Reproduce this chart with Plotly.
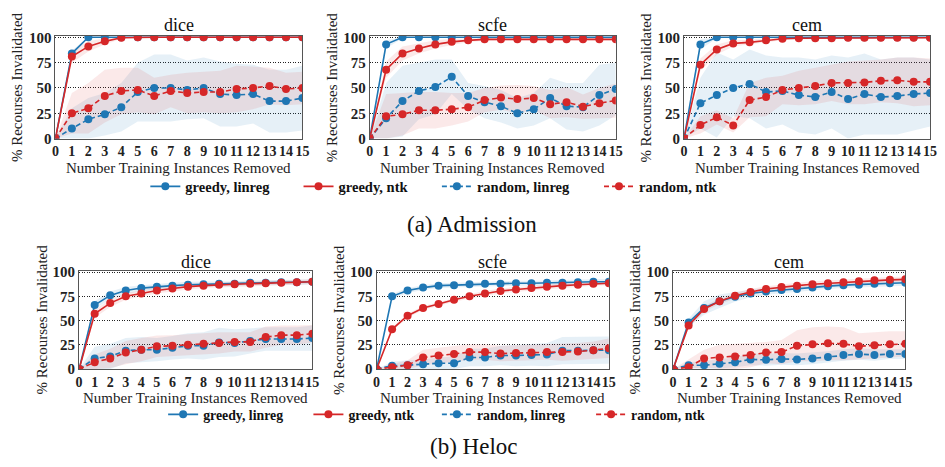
import plotly.graph_objects as go

# ---------------- data ----------------
X = list(range(16))
SERIES = ["greedy, linreg", "greedy, ntk", "random, linreg", "random, ntk"]
METHODS = ["dice", "scfe", "cem"]
CAPTIONS = ["(a) Admission", "(b) Heloc"]
Y_TICKS = [0, 25, 50, 75, 100]
X_TITLE = "Number Training Instances Removed"
Y_TITLE = "% Recourses Invalidated"

# Admission / dice
ADM_DICE_GL = [0, 84, 100, 100, 100, 100, 100, 100, 100, 100, 100, 100, 100, 100, 100, 100]
ADM_DICE_GL_SD = [0, 3, 1, 0.5, 0, 0, 0, 0, 0, 0, 0, 0, 0, 0, 0, 0]
ADM_DICE_GN = [0, 81, 91, 96, 99.5, 100, 100, 100, 100, 100, 100, 100, 100, 100, 100, 100]
ADM_DICE_GN_SD = [0, 6, 5, 3, 1, 0.5, 0, 0, 0, 0, 0, 0, 0, 0, 0, 0]
ADM_DICE_RL = [0, 10, 19, 24, 31, 46, 50, 50, 48, 50, 44, 43, 44, 37, 37, 40]
ADM_DICE_RL_SD = [0, 20, 21, 21, 24, 29, 33, 33, 29, 30, 32, 31, 29, 31, 31, 32]
ADM_DICE_RN = [0, 25, 30, 42, 47, 48, 42, 47, 45, 46, 46, 49, 50, 52, 49, 50]
ADM_DICE_RN_SD = [0, 20, 25, 26, 23, 22, 18, 16, 20, 20, 21, 23, 21, 18, 16, 16]

# Admission / scfe
ADM_SCFE_GL = [0, 93, 100, 100, 100, 100, 100, 100, 100, 100, 100, 100, 100, 100, 100, 100]
ADM_SCFE_GL_SD = [0, 4, 1, 0.5, 0, 0, 0, 0, 0, 0, 0, 0, 0, 0, 0, 0]
ADM_SCFE_GN = [0, 68, 84, 89, 93, 95.5, 97, 98, 98, 98, 98, 98, 98, 98, 98, 98]
ADM_SCFE_GN_SD = [0, 8, 7, 5, 4, 3, 2, 1.5, 1.5, 1.5, 1.5, 1.5, 1.5, 1.5, 1.5, 1.5]
ADM_SCFE_RL = [0, 20, 37, 47, 51, 61, 42, 36, 32, 25, 29, 40, 32, 31, 43, 49]
ADM_SCFE_RL_SD = [0, 35, 35, 28, 27, 17, 13, 16, 16, 15, 16, 20, 23, 24, 30, 26]
ADM_SCFE_RN = [0, 22, 24, 28, 28, 29, 31, 38, 40.5, 39, 40, 34, 36, 31.5, 35, 37.5]
ADM_SCFE_RN_SD = [0, 22, 21, 18, 18, 16, 14, 12, 12, 14, 12, 14, 15, 12, 15, 17]

# Admission / cem
ADM_CEM_GL = [0, 93, 100, 100, 100, 100, 100, 100, 100, 100, 100, 100, 100, 100, 100, 100]
ADM_CEM_GL_SD = [0, 5, 1, 0.5, 0, 0, 0, 0, 0, 0, 0, 0, 0, 0, 0, 0]
ADM_CEM_GN = [0, 73, 88, 94, 95, 97, 98.5, 99, 99, 99, 99.5, 99.5, 99.5, 99.5, 99.5, 99.5]
ADM_CEM_GN_SD = [0, 6, 5, 3, 2.5, 2, 1.5, 1, 1, 1, 1, 1, 1, 1, 1, 1]
ADM_CEM_RL = [0, 35, 43, 50, 54, 46, 47, 43, 41, 46, 39, 44, 41, 42, 44, 45]
ADM_CEM_RL_SD = [0, 25, 42, 28, 34, 36, 33, 37, 37, 36, 41, 40, 37, 38, 36, 33]
ADM_CEM_RN = [0, 13.5, 21, 13, 38, 41, 48, 50, 52, 55, 55, 55.5, 57, 57.5, 56, 56]
ADM_CEM_RN_SD = [0, 8.5, 7, 7, 17, 19, 14, 17, 18, 18, 21, 21.5, 21, 22.5, 24, 23]

# Heloc / dice
HEL_DICE_GL = [0, 66, 76, 81, 83.5, 85, 86, 87, 87.5, 88, 88, 89, 89, 89.5, 89.5, 90]
HEL_DICE_GL_SD = [0, 4, 4, 3.5, 3, 3, 3, 3, 2.5, 2.5, 2.5, 2.5, 2.5, 2.5, 2.5, 2.5]
HEL_DICE_GN = [0, 57, 68, 75, 78, 81, 83, 85, 86, 87, 87.5, 88, 88.5, 89, 89.5, 90]
HEL_DICE_GN_SD = [0, 4, 4, 3.5, 3, 3, 3, 3, 2.5, 2.5, 2.5, 2.5, 2.5, 2.5, 2.5, 2.5]
HEL_DICE_RL = [0, 11, 13, 19, 20, 20, 22, 24, 24, 27.5, 27, 29, 31, 31, 31, 32]
HEL_DICE_RL_SD = [0, 12, 13, 13, 13, 12, 12, 13, 14, 15, 14, 13, 12, 12, 12, 13]
HEL_DICE_RN = [0, 7, 11, 17, 20, 23.5, 24, 25, 26, 27, 28, 28, 33, 35, 35, 36.5]
HEL_DICE_RN_SD = [0, 8, 10, 12, 12, 11, 11, 11, 11, 11, 10, 10, 11, 10, 10, 9]

# Heloc / scfe
HEL_SCFE_GL = [0, 75, 81, 84, 86, 86.5, 87.5, 88, 88, 88.5, 88.5, 89, 89, 89.5, 90, 90]
HEL_SCFE_GL_SD = [0, 2.5, 2.5, 2.5, 2.5, 2.5, 2.5, 2.5, 2.5, 2.5, 2.5, 2.5, 2.5, 2.5, 2.5, 2.5]
HEL_SCFE_GN = [0, 41, 55, 63, 67, 71.5, 75, 78, 80.5, 82, 83.5, 85, 86, 87, 88, 88.5]
HEL_SCFE_GN_SD = [0, 2, 2, 2, 2, 2, 2.5, 2.5, 2.5, 2.5, 2.5, 2.5, 2.5, 2.5, 2, 2]
HEL_SCFE_RL = [0, 3.5, 4, 5, 6, 6, 12, 12, 14, 14, 14.5, 15, 19, 19, 19.5, 19.5]
HEL_SCFE_RL_SD = [0, 4, 5, 5, 6, 7, 9, 9, 10, 11, 11, 12, 14, 14, 14, 14]
HEL_SCFE_RN = [0, 2, 4, 12, 14, 15.5, 17.5, 17.5, 16, 16.5, 17, 17.5, 17.5, 18, 19.5, 21.5]
HEL_SCFE_RN_SD = [0, 3, 5, 8, 8, 8, 8, 8, 8, 8, 8, 8, 9, 9, 9, 10]

# Heloc / cem
HEL_CEM_GL = [0, 48, 63, 70, 74.5, 78, 80, 81.5, 82.5, 84, 85.5, 86.5, 87, 88, 88.5, 89]
HEL_CEM_GL_SD = [0, 4, 7, 7, 5, 4, 3.5, 3, 3, 3, 3, 3, 3, 3, 3, 3]
HEL_CEM_GN = [0, 45, 62, 70, 75.5, 79.5, 82.5, 84.5, 86, 87.5, 88.5, 89.5, 90.5, 91.5, 92, 92.5]
HEL_CEM_GN_SD = [0, 3, 3, 3, 3, 3, 3, 3, 3, 3, 3, 3, 3, 3, 3, 3]
HEL_CEM_RL = [0, 4, 4, 5.5, 7, 10, 9.5, 10.5, 10, 11, 12.5, 14.5, 15.5, 14.5, 15.5, 15.5]
HEL_CEM_RL_SD = [0, 3, 4, 5, 5, 6, 6, 6, 6, 6, 6, 6, 6, 6, 5, 5]
HEL_CEM_RN = [0, 2, 11, 12, 13, 14.5, 17, 17.5, 24, 25.5, 26.5, 26, 23.5, 24.5, 25.5, 26]
HEL_CEM_RN_SD = [0, 8, 9, 13, 13, 12.5, 11, 12.5, 16, 17.5, 17.5, 17, 13.5, 13.5, 13.5, 13]

PANELS = [
    [
        [(ADM_DICE_GL, ADM_DICE_GL_SD), (ADM_DICE_GN, ADM_DICE_GN_SD), (ADM_DICE_RL, ADM_DICE_RL_SD), (ADM_DICE_RN, ADM_DICE_RN_SD)],
        [(ADM_SCFE_GL, ADM_SCFE_GL_SD), (ADM_SCFE_GN, ADM_SCFE_GN_SD), (ADM_SCFE_RL, ADM_SCFE_RL_SD), (ADM_SCFE_RN, ADM_SCFE_RN_SD)],
        [(ADM_CEM_GL, ADM_CEM_GL_SD), (ADM_CEM_GN, ADM_CEM_GN_SD), (ADM_CEM_RL, ADM_CEM_RL_SD), (ADM_CEM_RN, ADM_CEM_RN_SD)],
    ],
    [
        [(HEL_DICE_GL, HEL_DICE_GL_SD), (HEL_DICE_GN, HEL_DICE_GN_SD), (HEL_DICE_RL, HEL_DICE_RL_SD), (HEL_DICE_RN, HEL_DICE_RN_SD)],
        [(HEL_SCFE_GL, HEL_SCFE_GL_SD), (HEL_SCFE_GN, HEL_SCFE_GN_SD), (HEL_SCFE_RL, HEL_SCFE_RL_SD), (HEL_SCFE_RN, HEL_SCFE_RN_SD)],
        [(HEL_CEM_GL, HEL_CEM_GL_SD), (HEL_CEM_GN, HEL_CEM_GN_SD), (HEL_CEM_RL, HEL_CEM_RL_SD), (HEL_CEM_RN, HEL_CEM_RN_SD)],
    ],
]

# ---------------- style / layout ----------------
W, H = 945, 467
FONT = "Liberation Serif"
COLORS = ["#1f77b4", "#d62728", "#1f77b4", "#d62728"]
FILLS = ["rgba(31,119,180,0.11)", "rgba(214,39,40,0.10)", "rgba(31,119,180,0.11)", "rgba(214,39,40,0.10)"]
DASHES = ["solid", "solid", "5px,3px", "5px,3px"]

# plot-area boxes in pixels: (left, right) per column, (top, bottom) per row
X_BOXES = [[(52, 302), (370, 619), (688, 937)],
           [(76, 312), (377, 612), (677, 912)]]
Y_BOXES = [(30.7, 136.7), (272.8, 374.3)]
TITLE_Y = [20, 263.5]
XTITLE_Y = [166.5, 404]
YTITLE_X = [[13, 332, 650], [38, 339, 638]]
CAPTION_Y = [225, 454]
CAPTION_X = [474, 476]
LEGEND_Y = [186, 421]
LEGEND_X = [[148, 303, 443, 607], [166, 313, 443, 599]]
LEGEND_SIZE = [14.5, 13.8]


def px(x):
    return x / W


def py(y):
    return 1 - y / H


fig = go.Figure()
annotations = []
layout = {}

for r in range(2):
    for c in range(3):
        k = r * 3 + c + 1
        sfx = "" if k == 1 else str(k)
        xa, ya = "x" + sfx, "y" + sfx
        for i, (mean, sd) in enumerate(PANELS[r][c]):
            hi = [min(m + s, 100) for m, s in zip(mean, sd)]
            lo = [max(m - s, 0) for m, s in zip(mean, sd)]
            fig.add_trace(go.Scatter(
                x=X + X[::-1], y=hi + lo[::-1], fill="toself", fillcolor=FILLS[i],
                line=dict(width=0), mode="lines", hoverinfo="skip",
                showlegend=False, xaxis=xa, yaxis=ya))
        for i, (mean, sd) in enumerate(PANELS[r][c]):
            leg_idx = r * 4 + i + 1
            fig.add_trace(go.Scatter(
                x=X, y=mean, mode="lines+markers", name=SERIES[i],
                line=dict(color=COLORS[i], width=1.6, dash=DASHES[i]),
                marker=dict(color=COLORS[i], size=8, symbol="circle"),
                showlegend=(c == 0),
                legend="legend" if leg_idx == 1 else "legend%d" % leg_idx,
                xaxis=xa, yaxis=ya))

        (x0, x1), (y0, y1) = X_BOXES[r][c], Y_BOXES[r]
        layout["xaxis" + sfx] = dict(
            domain=[px(x0), px(x1)], anchor=ya, range=[0, 15],
            tickmode="array", tickvals=X, ticktext=[str(v) for v in X], tickangle=0,
            showgrid=False, zeroline=False, ticks="",
            showline=True, mirror=True, linecolor="#555555", linewidth=1,
            tickfont=dict(family=FONT, size=14, color="#222222", weight="bold"))
        layout["yaxis" + sfx] = dict(
            domain=[py(y1), py(y0)], anchor=xa, range=[0, 101.5],
            tickmode="array", tickvals=Y_TICKS,
            showgrid=True, gridcolor="#222222", gridwidth=1, griddash="1px,1.5px",
            zeroline=False, ticks="",
            showline=True, mirror=True, linecolor="#555555", linewidth=1,
            tickfont=dict(family=FONT, size=15, color="#222222", weight="bold"))

        cx = (x0 + x1) / 2
        annotations.append(dict(text=METHODS[c], x=px(cx), y=py(TITLE_Y[r]), xref="paper", yref="paper",
                                showarrow=False, xanchor="center", yanchor="middle",
                                font=dict(family=FONT, size=18, color="#111111")))
        annotations.append(dict(text=X_TITLE, x=px(cx), y=py(XTITLE_Y[r]), xref="paper", yref="paper",
                                showarrow=False, xanchor="center", yanchor="middle",
                                font=dict(family=FONT, size=15, color="#222222")))
        annotations.append(dict(text=Y_TITLE, x=px(YTITLE_X[r][c]), y=py((y0 + y1) / 2), xref="paper",
                                yref="paper", showarrow=False, textangle=-90,
                                xanchor="center", yanchor="middle",
                                font=dict(family=FONT, size=15, color="#222222")))

    annotations.append(dict(text=CAPTIONS[r], x=px(CAPTION_X[r]), y=py(CAPTION_Y[r]), xref="paper", yref="paper",
                            showarrow=False, xanchor="center", yanchor="middle",
                            font=dict(family=FONT, size=23, color="#111111")))
    for i in range(4):
        leg_idx = r * 4 + i + 1
        key = "legend" if leg_idx == 1 else "legend%d" % leg_idx
        layout[key] = dict(x=px(LEGEND_X[r][i] - 5), y=py(LEGEND_Y[r]), xanchor="left", yanchor="middle",
                           bgcolor="rgba(0,0,0,0)", borderwidth=0, tracegroupgap=0,
                           font=dict(family=FONT, size=LEGEND_SIZE[r], color="#111111", weight="bold"))

fig.update_layout(
    width=W, height=H, autosize=False,
    margin=dict(l=0, r=0, t=0, b=0),
    paper_bgcolor="white", plot_bgcolor="white",
    annotations=annotations,
    **layout)

fig.write_html("out.html")
